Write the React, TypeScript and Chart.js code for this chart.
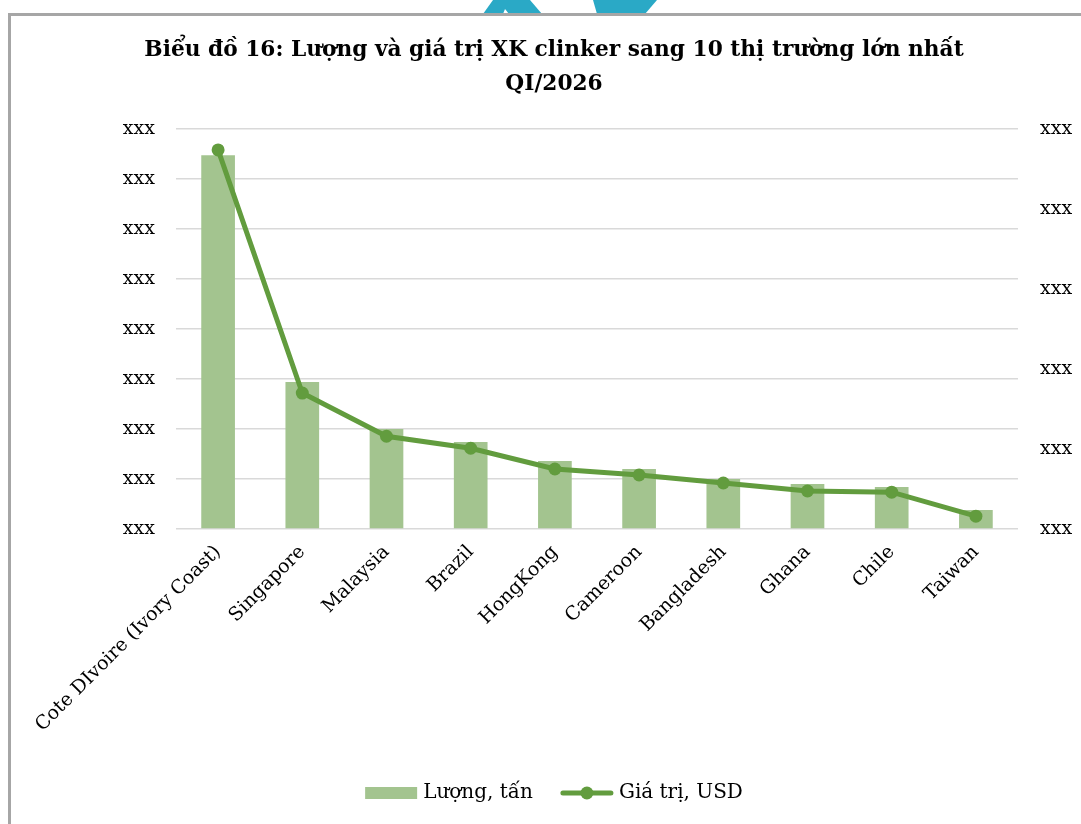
import React, { useEffect, useRef } from "react";
import { Chart, registerables } from "chart.js";

Chart.register(...registerables);

const titleLines = ["Biểu đồ 16: Lượng và giá trị XK clinker sang 10 thị trường lớn nhất", "QI/2026"];
const categories = [
  "Cote DIvoire (Ivory Coast)",
  "Singapore",
  "Malaysia",
  "Brazil",
  "HongKong",
  "Cameroon",
  "Bangladesh",
  "Ghana",
  "Chile",
  "Taiwan",
];
const volumeLabel = "Lượng, tấn";
const valueLabel = "Giá trị, USD";
const volumeTons = [7.48, 2.94, 2.0, 1.74, 1.36, 1.2, 1.0, 0.9, 0.84, 0.38];
const valueUsd = [4.74, 1.7, 1.16, 1.01, 0.75, 0.675, 0.575, 0.475, 0.46, 0.16];
const leftTickLabels = ["xxx", "xxx", "xxx", "xxx", "xxx", "xxx", "xxx", "xxx", "xxx"];
const rightTickLabels = ["xxx", "xxx", "xxx", "xxx", "xxx", "xxx"];

const BAR_COLOR = "#a3c48f";
const LINE_COLOR = "#629c3e";
const FONT = "'DejaVu Serif', serif";

const legendPlugin = {
  id: "customLegend",
  afterDraw(chart: any) {
    const ctx = chart.ctx;
    const y = 780;
    ctx.save();
    ctx.font = `20px ${FONT}`;
    ctx.textBaseline = "middle";
    ctx.fillStyle = "#000";
    const ds = chart.data.datasets;
    const t0 = ds[0].label;
    const t1 = ds[1].label;
    const w0 = ctx.measureText(t0).width;
    const w1 = ctx.measureText(t1).width;
    const box = 52;
    const gap = 6;
    const between = 28;
    const total = box + gap + w0 + between + box + gap + w1;
    let x = chart.width / 2 - total / 2;
    ctx.fillStyle = BAR_COLOR;
    ctx.fillRect(x, y - 6, box, 12);
    x += box + gap;
    ctx.fillStyle = "#000";
    ctx.fillText(t0, x, y);
    x += w0 + between;
    ctx.strokeStyle = LINE_COLOR;
    ctx.lineWidth = 5;
    ctx.lineCap = "round";
    ctx.beginPath();
    ctx.moveTo(x + 2, y);
    ctx.lineTo(x + box - 2, y);
    ctx.stroke();
    ctx.fillStyle = LINE_COLOR;
    ctx.beginPath();
    ctx.arc(x + box / 2, y, 6.5, 0, Math.PI * 2);
    ctx.fill();
    x += box + gap;
    ctx.fillStyle = "#000";
    ctx.fillText(t1, x, y);
    ctx.restore();
  },
};

export default function App() {
  const ref = useRef<HTMLCanvasElement>(null);
  useEffect(() => {
    if (!ref.current) return;
    const chart = new Chart(ref.current, {
      type: "bar",
      data: {
        labels: categories,
        datasets: [
          {
            type: "bar",
            label: volumeLabel,
            data: volumeTons,
            yAxisID: "y",
            backgroundColor: BAR_COLOR,
            barPercentage: 0.4,
            categoryPercentage: 1,
            order: 1,
          },
          {
            type: "line",
            label: valueLabel,
            data: valueUsd,
            yAxisID: "y1",
            borderColor: LINE_COLOR,
            backgroundColor: LINE_COLOR,
            borderWidth: 5,
            pointRadius: 6.5,
            pointBackgroundColor: LINE_COLOR,
            pointBorderWidth: 0,
            tension: 0,
            order: 0,
          } as any,
        ],
      },
      options: {
        animation: false,
        responsive: false,
        maintainAspectRatio: false,
        layout: { padding: { left: 0, right: 0, top: 0, bottom: 60 } },
        plugins: {
          legend: { display: false },
          tooltip: { enabled: false },
          title: {
            display: true,
            text: titleLines,
            color: "#000",
            font: { family: FONT, size: 21.7, weight: "bold", lineHeight: 1.57 },
            padding: { top: 20, bottom: 28 },
          },
        },
        scales: {
          x: {
            grid: { display: false, drawTicks: false },
            border: { display: false },
            ticks: {
              autoSkip: false,
              maxRotation: 45,
              minRotation: 45,
              padding: 12,
              color: "#000",
              font: { family: FONT, size: 19 },
            },
            afterFit: (s: any) => {
              s.height = 235;
            },
          },
          y: {
            position: "left",
            min: 0,
            max: 8,
            grid: { color: "#d9d9d9", lineWidth: 1.5, drawTicks: false },
            border: { display: false },
            ticks: {
              stepSize: 1,
              padding: 21,
              color: "#000",
              font: { family: FONT, size: 19 },
              callback: (_v: any, i: number) => leftTickLabels[i],
            },
            afterFit: (s: any) => {
              s.width = 168;
            },
          },
          y1: {
            position: "right",
            min: 0,
            max: 5,
            grid: { display: false, drawTicks: false },
            border: { display: false },
            ticks: {
              stepSize: 1,
              padding: 22,
              color: "#000",
              font: { family: FONT, size: 19 },
              callback: (_v: any, i: number) => rightTickLabels[i],
            },
            afterFit: (s: any) => {
              s.width = 82;
            },
          },
        },
      },
      plugins: [legendPlugin],
    });
    return () => chart.destroy();
  }, []);

  return (
    <div
      style={{
        position: "fixed",
        left: 0,
        top: 0,
        width: 1081,
        height: 824,
        overflow: "hidden",
        background: "#fff",
      }}
    >
      <svg
        width={1081}
        height={20}
        style={{ position: "absolute", left: 0, top: 0 }}
      >
        <polygon points="493,0 530,0 542,14 483,14" fill="#2aa9c6" />
        <polygon points="503,14 509,14 505,9" fill="#fff" />
        <polygon points="593,0 657,0 645,14 597,14" fill="#2aa9c6" />
      </svg>
      <div
        style={{
          position: "absolute",
          left: 8,
          top: 13,
          width: 1200,
          height: 1000,
          borderLeft: "3px solid #a6a6a6",
          borderTop: "3px solid #a6a6a6",
          background: "#fff",
        }}
      />
      <canvas
        ref={ref}
        width={1092}
        height={811}
        style={{ position: "absolute", left: 8, top: 13, width: 1092, height: 811 }}
      />
    </div>
  );
}
